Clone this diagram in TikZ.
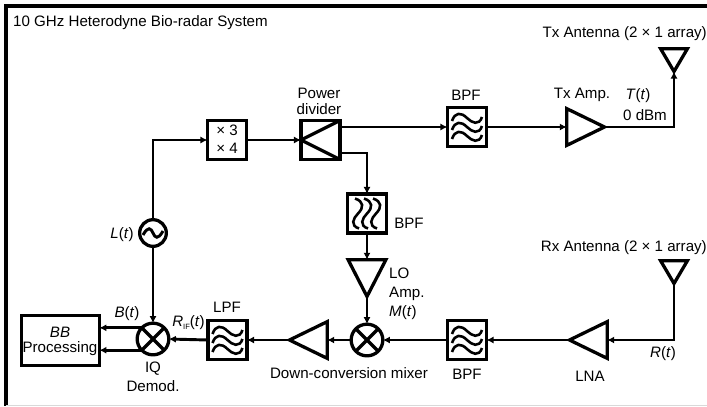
\documentclass[tikz,border=0pt]{standalone}
\usepackage{fontspec}
\setmainfont{Liberation Sans}
\usepackage{tikz}
\usetikzlibrary{arrows.meta,shapes.geometric,calc}

\tikzset{
  wire/.style={line width=2.5pt},
  sig/.style={wire,-{Latex[length=6pt,width=6pt]}},
  blockbox/.style={draw,line width=2.8pt,inner sep=0pt,outer sep=0pt,minimum size=1.17cm},
  roundel/.style={circle,draw,line width=2.8pt,inner sep=0pt,outer sep=0pt},
  amp/.style={isosceles triangle,isosceles triangle stretches,draw,line width=2.8pt,
    inner sep=0pt,outer sep=0pt,shape border rotate=#1,anchor=apex},
  waves/.pic={
    \foreach \dy in {-9,0,9}
      \draw[line width=2.2pt] (-15,\dy+3) .. controls (-12,\dy-6) and (-6,\dy-6) .. (0,\dy)
        .. controls (5,\dy+5) and (12,\dy+8) .. (15,\dy-1);
  },
  lbl/.style={inner sep=0pt,font=\fontsize{12.9}{15}\selectfont}
}

\begin{document}
\begin{tikzpicture}[x=0.03cm,y=-0.03cm]
  \useasboundingbox (0,0) rectangle (707,406);
  \draw[line width=2.9pt] (707,6) -- (6,6) -- (6,406); % outer frame, top and left
  \draw[black!15,line width=0.8pt] (6,405) -- (707,405); % outer frame, bottom
  % blocks of the upper chain
  \node[roundel,minimum size=0.8cm] (osc) at (153,233) {};
  \draw[line width=2.5pt] ($(osc)+(-10,2)$) .. controls ($(osc)+(-5,-7)$) and ($(osc)+(-2,-5)$) .. (osc.center)
    .. controls ($(osc)+(2,5)$) and ($(osc)+(5,7)$) .. ($(osc)+(10,-2)$); % sine in the oscillator
  \node[blockbox] (mult) at (227,140) {};
  \node[blockbox] (pdiv) at (320.5,140) {};
  \draw[line width=2.8pt] (pdiv.north east) -- (pdiv.west) -- (pdiv.south east); % divider wedge
  \node[blockbox] (bpfTx) at (467,127) {};
  \pic at (bpfTx) {waves};
  \node[amp=0,minimum width=1.1cm,minimum height=1.13cm] (txAmp) at (604.5,127) {};
  \node[amp=270,minimum width=0.8cm,minimum height=0.68cm] (txAnt) at (674,71.5) {};
  \node[blockbox] (bpfLo) at (367,213.5) {};
  \pic[rotate=-90] at (bpfLo) {waves};
  \node[amp=270,minimum width=1.13cm,minimum height=1.1cm] (loAmp) at (367,296.5) {};
  % blocks of the lower chain
  \node[amp=270,minimum width=0.8cm,minimum height=0.68cm] (rxAnt) at (674,283.5) {};
  \node[amp=180,minimum width=1.1cm,minimum height=1.13cm] (lna) at (569.5,340) {};
  \node[blockbox] (bpfRx) at (467,340) {};
  \pic at (bpfRx) {waves};
  \node[roundel,minimum size=0.95cm] (dnMix) at (367,340) {};
  \draw[line width=2.8pt] (dnMix.45) -- (dnMix.225) (dnMix.135) -- (dnMix.315); % mixer cross
  \node[amp=180,minimum width=1.1cm,minimum height=1.13cm] (ifAmp) at (289.5,340) {};
  \node[blockbox] (lpf) at (227.5,340) {};
  \pic at (lpf) {waves};
  \node[roundel,minimum size=0.95cm] (iqMix) at (153,339) {};
  \draw[line width=2.8pt] (iqMix.45) -- (iqMix.225) (iqMix.135) -- (iqMix.315); % demodulator cross
  \node[blockbox,minimum width=2.33cm,minimum height=1.5cm] (bb) at (60.5,340.5) {};
  \coordinate (pdivTop) at (341,127); % upper output of the divider
  \coordinate (pdivLow) at (341,153); % lower output of the divider
  % connectors
  \draw[sig] (osc.north) |- (mult.west);
  \draw[sig] (mult.east) -- (pdiv.west);
  \draw[sig] (pdivTop) -- (bpfTx.west);
  \draw[sig] (bpfTx.east) -- (txAmp.lower side);
  \draw[sig] (txAmp.apex) -| (txAnt.apex);
  \draw[sig] (pdivLow) -| (bpfLo.north);
  \draw[sig] (bpfLo.south) -- (loAmp.lower side);
  \draw[sig] (loAmp.apex) -- (dnMix.north);
  \draw[sig] (rxAnt.apex) |- (lna.lower side);
  \draw[sig] (lna.apex) -- (bpfRx.east);
  \draw[sig] (bpfRx.west) -- (dnMix.east);
  \draw[sig] (dnMix.west) -- (ifAmp.lower side);
  \draw[sig] (ifAmp.apex) -- (lpf.east);
  \draw[sig] (lpf.west) -- (iqMix.east);
  \draw[sig] (osc.south) -- (iqMix.north);
  \draw[sig] (iqMix.135) -- (iqMix.135 -| bb.east);
  \draw[sig] (iqMix.225) -- (iqMix.225 -| bb.east);
  % labels
  \node[lbl,anchor=west] (title) at (13,23) {10 GHz Heterodyne Bio-radar System};
  \node[lbl,anchor=east] (txName) at (707,34) {Tx Antenna (2 \texttimes{} 1 array)};
  \node[lbl,anchor=east] (rxName) at (707,248) {Rx Antenna (2 \texttimes{} 1 array)};
  \node[lbl] (bpfTxName) at (466,95) {BPF};
  \node[lbl] (txAmpName) at (582,95) {Tx Amp.};
  \node[lbl] (txSig) at (638,96) {\textit{T}(\textit{t})};
  \node[lbl] (txPower) at (645,115) {0 dBm};
  \node[lbl] (pdivNameA) at (319,93) {Power};
  \node[lbl] (pdivNameB) at (319,109) {divider};
  \node[lbl] (timesA) at (227,130) {\texttimes{} 3};
  \node[lbl] (timesB) at (227,148.5) {\texttimes{} 4};
  \node[lbl] (bpfLoName) at (409,223) {BPF};
  \node[lbl,anchor=west] (loA) at (389,273) {LO};
  \node[lbl,anchor=west] (loB) at (389,294) {Amp.};
  \node[lbl,anchor=west] (loSig) at (389,313) {\textit{M}(\textit{t})};
  \node[lbl] (oscSig) at (122,235) {\textit{L}(\textit{t})};
  \node[lbl] (rxSig) at (663,354) {\textit{R}(\textit{t})};
  \node[lbl] (lnaName) at (590,376) {LNA};
  \node[lbl] (bpfRxName) at (467,374) {BPF};
  \node[lbl] (dnName) at (349,373) {Down-conversion mixer};
  \node[lbl] (lpfName) at (227,307) {LPF};
  \node[lbl] (ifSig) at (188.5,323) {\textit{R}\raisebox{-2pt}{\fontsize{6.5}{7}\selectfont IF}(\textit{t})};
  \node[lbl] (bbSig) at (127,314) {\textit{B}(\textit{t})};
  \node[lbl] (iqNameA) at (153,369) {IQ};
  \node[lbl] (iqNameB) at (153,386) {Demod.};
  \node[lbl] (bbNameA) at (60,332) {\textit{BB}};
  \node[lbl] (bbNameB) at (60,349) {Processing};
\end{tikzpicture}
\end{document}
